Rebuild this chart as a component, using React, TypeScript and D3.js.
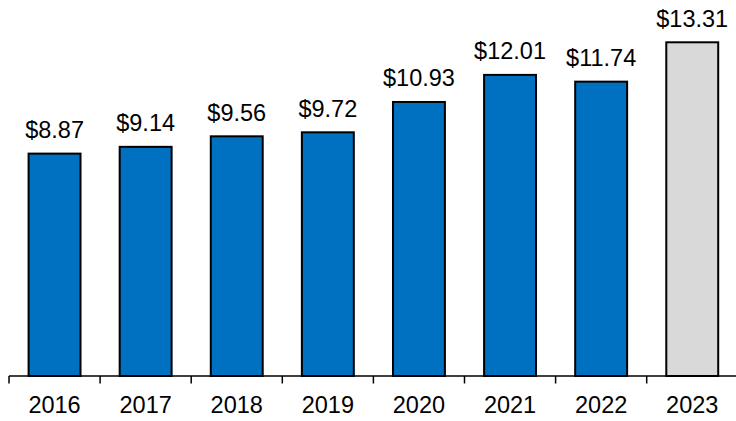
import React from "react";
import * as d3 from "d3";

const years = ["2016", "2017", "2018", "2019", "2020", "2021", "2022", "2023"];
const values = [8.87, 9.14, 9.56, 9.72, 10.93, 12.01, 11.74, 13.31];
const labels = ["$8.87", "$9.14", "$9.56", "$9.72", "$10.93", "$12.01", "$11.74", "$13.31"];
const highlight = [false, false, false, false, false, false, false, true];

const W = 736;
const H = 421;
const baseY = 376;
const topY = 42.3;

export default function App() {
  const x = d3
    .scaleBand<string>()
    .domain(years)
    .range([9, 9 + 8 * 91.1])
    .paddingInner(0.43)
    .paddingOuter(0.215);
  const y = d3.scaleLinear().domain([0, d3.max(values) as number]).range([baseY, topY]);
  const step = x.step();
  const gap = (step - x.bandwidth()) / 2;
  const font = "Arial, 'Liberation Sans', sans-serif";

  return (
    <svg
      width={W}
      height={H}
      style={{ position: "absolute", left: 0, top: 0, background: "#fff" }}
    >
      {years.map((yr, i) => (
        <rect
          key={yr}
          x={x(yr)}
          y={y(values[i])}
          width={x.bandwidth()}
          height={baseY - y(values[i])}
          fill={highlight[i] ? "#D9D9D9" : "#0070C0"}
          stroke="#000"
          strokeWidth={2}
        />
      ))}
      <line x1={9} x2={W} y1={baseY} y2={baseY} stroke="#000" strokeWidth={1.5} />
      {years.map((yr) => (
        <line
          key={"t" + yr}
          x1={(x(yr) as number) - gap}
          x2={(x(yr) as number) - gap}
          y1={baseY}
          y2={383.5}
          stroke="#000"
          strokeWidth={1.5}
        />
      ))}
      {years.map((yr, i) => (
        <text
          key={"v" + yr}
          x={(x(yr) as number) + x.bandwidth() / 2}
          y={y(values[i]) - 15.6}
          textAnchor="middle"
          fontFamily={font}
          fontSize={23.5}
          fill="#000"
        >
          {labels[i]}
        </text>
      ))}
      {years.map((yr) => (
        <text
          key={"x" + yr}
          x={(x(yr) as number) + x.bandwidth() / 2}
          y={412.5}
          textAnchor="middle"
          fontFamily={font}
          fontSize={23.5}
          fill="#000"
        >
          {yr}
        </text>
      ))}
    </svg>
  );
}
